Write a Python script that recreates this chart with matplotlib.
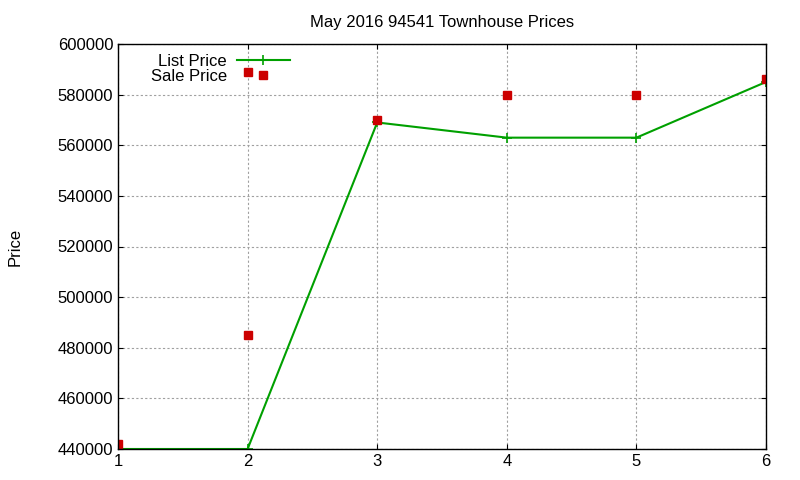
import matplotlib
matplotlib.use("Agg")
import matplotlib.pyplot as plt

list_x = [1, 2, 3, 4, 5, 6]
list_price = [440000, 440000, 569000, 563000, 563000, 585000]
sale_x = [1, 2, 2, 3, 4, 5, 6]
sale_price = [442000, 485000, 589000, 570000, 580000, 580000, 586000]
yticks = list(range(440000, 600001, 20000))

plt.rcParams['font.family'] = ['Liberation Sans', 'DejaVu Sans']
fig = plt.figure(figsize=(8, 4.8), dpi=100)
ax = fig.add_axes([118/800, 1-449/480, (766-118)/800, (449-44)/480])
ax.plot(list_x, list_price, color="#00a000", lw=1.5, marker="+", ms=7, mew=1.2, label="List Price")
ax.plot(sale_x, sale_price, ls="none", marker="s", ms=6, color="#cc0000", label="Sale Price")
ax.set_xlim(1, 6)
ax.set_ylim(440000, 600000)
ax.set_yticks(yticks)
ax.set_yticklabels([str(v) for v in yticks])
ax.set_xticks(list_x)
ax.grid(True, color="#a0a0a0", ls=(0, (2, 2)), lw=0.8)
ax.tick_params(direction="in", labelsize=12, top=True, right=True)
for s in ax.spines.values():
    s.set_linewidth(1)
ax.set_title("May 2016 94541 Townhouse Prices", fontsize=12, pad=12)
ax.set_ylabel("Price", fontsize=12, labelpad=25)
leg = ax.legend(loc="upper left", bbox_to_anchor=(0.035, 1.0), markerfirst=False, frameon=False,
                fontsize=12, handlelength=3.2, borderpad=0.1, labelspacing=0.0, numpoints=1,
                handletextpad=0.6)
for t in leg.get_texts():
    t.set_ha("right")
leg._legend_box.align = "right"
fig.savefig("out.png", dpi=100)
